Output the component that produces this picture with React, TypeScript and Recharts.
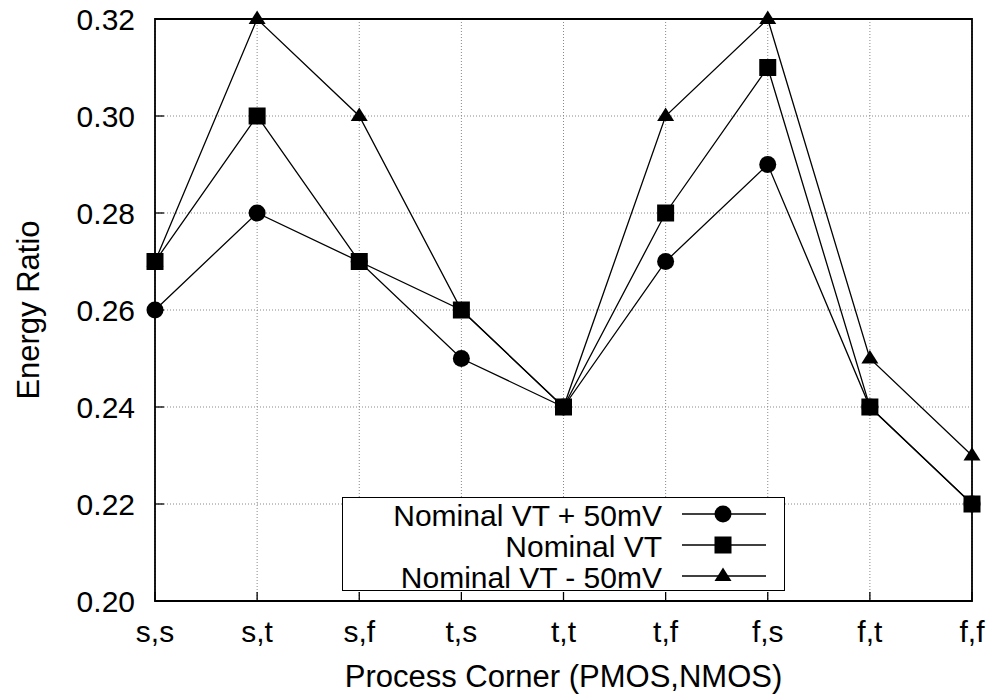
import React from 'react';
import { LineChart, Line, XAxis, YAxis, CartesianGrid, Legend, ReferenceArea } from 'recharts';

const corners = ['s,s', 's,t', 's,f', 't,s', 't,t', 't,f', 'f,s', 'f,t', 'f,f'];
const plus50 = [0.26, 0.28, 0.27, 0.25, 0.24, 0.27, 0.29, 0.24, 0.22];
const nominal = [0.27, 0.30, 0.27, 0.26, 0.24, 0.28, 0.31, 0.24, 0.22];
const minus50 = [0.27, 0.32, 0.30, 0.26, 0.24, 0.30, 0.32, 0.25, 0.23];
const yTicks = [0.20, 0.22, 0.24, 0.26, 0.28, 0.30, 0.32];
const seriesNames = ['Nominal VT + 50mV', 'Nominal VT', 'Nominal VT - 50mV'];
const seriesKeys = ['plus50', 'nominal', 'minus50'];
const seriesShapes = ['circle', 'square', 'triangle'];

const data = corners.map((c, i) => ({
  corner: c,
  plus50: plus50[i],
  nominal: nominal[i],
  minus50: minus50[i],
}));

const FONT = '"Liberation Sans", Arial, Helvetica, sans-serif';
const FS = 30;
const FS_LABEL = 31;
const FS_LEGEND = 30;
const TICK = 9;

function Marker({ shape, cx, cy }: { shape: string; cx: number; cy: number }) {
  if (cx == null || cy == null || isNaN(cx) || isNaN(cy)) return null;
  if (shape === 'circle') return <circle cx={cx} cy={cy} r={8.5} fill="#000" />;
  if (shape === 'square') return <rect x={cx - 8.5} y={cy - 8.5} width={17} height={17} fill="#000" />;
  return <polygon points={`${cx},${cy - 8.5} ${cx + 8.5},${cy + 5} ${cx - 8.5},${cy + 5}`} fill="#000" />;
}

const makeDot = (shape: string) => (props: any) => (
  <Marker key={`${shape}-${props.index}`} shape={shape} cx={props.cx} cy={props.cy} />
);

const BottomTick = (props: any) => {
  const { x, y, payload } = props;
  return (
    <g>
      <line x1={x} y1={y} x2={x} y2={y - TICK} stroke="#000" strokeWidth={1.3} />
      <text x={x} y={y + 41} textAnchor="middle" fontFamily={FONT} fontSize={FS} fill="#000">
        {payload.value}
      </text>
    </g>
  );
};

const TopTick = (props: any) => {
  const { x, y } = props;
  return <line x1={x} y1={y} x2={x} y2={y + TICK} stroke="#000" strokeWidth={1.3} />;
};

const LeftTick = (props: any) => {
  const { x, y, payload } = props;
  return (
    <g>
      <line x1={x} y1={y} x2={x + TICK} y2={y} stroke="#000" strokeWidth={1.3} />
      <text x={x - 20} y={y + 10.5} textAnchor="end" fontFamily={FONT} fontSize={FS} fill="#000">
        {Number(payload.value).toFixed(2)}
      </text>
    </g>
  );
};

const RightTick = (props: any) => {
  const { x, y } = props;
  return <line x1={x} y1={y} x2={x - TICK} y2={y} stroke="#000" strokeWidth={1.3} />;
};

const YLabel = (props: any) => {
  const vb = props.viewBox || {};
  const cx = 28;
  const cy = vb.y + vb.height / 2;
  return (
    <text
      x={cx}
      y={cy}
      transform={`rotate(-90, ${cx}, ${cy})`}
      textAnchor="middle"
      dominantBaseline="central"
      fontFamily={FONT}
      fontSize={FS_LABEL}
      fill="#000"
    >
      Energy Ratio
    </text>
  );
};

const XLabel = (props: any) => {
  const vb = props.viewBox || {};
  return (
    <text x={vb.x + vb.width / 2} y={vb.y + 86} textAnchor="middle" fontFamily={FONT} fontSize={FS_LABEL} fill="#000">
      Process Corner (PMOS,NMOS)
    </text>
  );
};

const LegendBox = () => {
  const rows = [16, 47, 78];
  return (
    <div
      style={{
        width: 443,
        height: 94,
        boxSizing: 'border-box',
        border: '1.5px solid #000',
        background: '#fff',
      }}
    >
      <svg width={440} height={91} style={{ display: 'block', overflow: 'visible' }}>
        {seriesNames.map((name, i) => (
          <g key={name}>
            <text
              x={319}
              y={rows[i] + 1}
              textAnchor="end"
              dominantBaseline="central"
              fontFamily={FONT}
              fontSize={FS_LEGEND}
              fill="#000"
            >
              {name}
            </text>
            <line x1={339} y1={rows[i]} x2={423} y2={rows[i]} stroke="#000" strokeWidth={1.3} />
            <Marker shape={seriesShapes[i]} cx={380} cy={rows[i]} />
          </g>
        ))}
      </svg>
    </div>
  );
};

export default function App() {
  return (
    <div style={{ position: 'absolute', left: 0, top: 0, background: '#fff' }}>
      <LineChart
        width={992}
        height={700}
        data={data}
        margin={{ top: 19, right: 20, bottom: 0, left: 0 }}
      >
        <CartesianGrid stroke="#888" strokeDasharray="1 2" strokeWidth={1} />
        <XAxis
          dataKey="corner"
          height={99}
          axisLine={false}
          tickLine={false}
          tickSize={0}
          tickMargin={0}
          interval={0}
          tick={<BottomTick />}
          label={<XLabel />}
        />
        <XAxis
          xAxisId="top"
          dataKey="corner"
          orientation="top"
          height={0}
          axisLine={false}
          tickLine={false}
          tickSize={0}
          tickMargin={0}
          interval={0}
          tick={<TopTick />}
        />
        <YAxis
          type="number"
          domain={[0.2, 0.32]}
          ticks={yTicks}
          width={155}
          axisLine={false}
          tickLine={false}
          tickSize={0}
          tickMargin={0}
          interval={0}
          tick={<LeftTick />}
          label={<YLabel />}
        />
        <YAxis
          yAxisId="right"
          orientation="right"
          type="number"
          domain={[0.2, 0.32]}
          ticks={yTicks}
          width={0}
          axisLine={false}
          tickLine={false}
          tickSize={0}
          tickMargin={0}
          interval={0}
          tick={<RightTick />}
        />
        <ReferenceArea
          x1={corners[0]}
          x2={corners[corners.length - 1]}
          y1={0.2}
          y2={0.32}
          fill="none"
          fillOpacity={0}
          stroke="#000"
          strokeWidth={1.8}
          ifOverflow="visible"
        />
        {seriesKeys.map((k, i) => (
          <Line
            key={k}
            dataKey={k}
            name={seriesNames[i]}
            stroke="#000"
            strokeWidth={1.3}
            dot={makeDot(seriesShapes[i])}
            activeDot={false}
            isAnimationActive={false}
          />
        ))}
        <Legend
          layout="vertical"
          align="center"
          verticalAlign="middle"
          content={<LegendBox />}
          wrapperStyle={{ position: 'absolute', left: 342, top: 497, width: 443, height: 94 }}
        />
      </LineChart>
    </div>
  );
}
